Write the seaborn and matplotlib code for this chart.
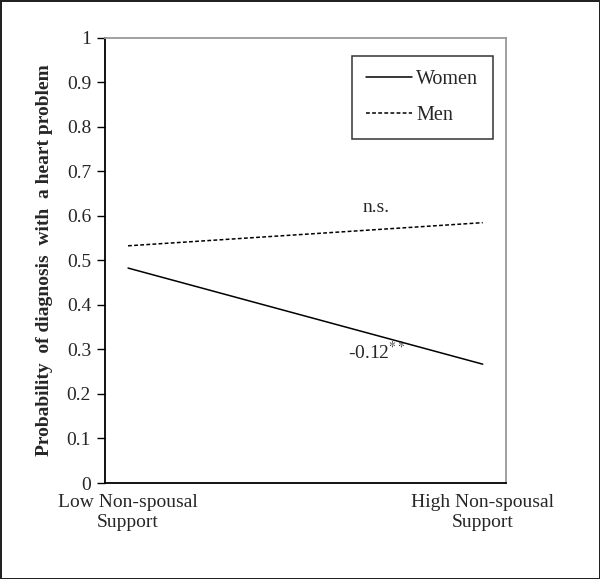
import pandas as pd
import matplotlib.pyplot as plt
import seaborn as sns
from matplotlib.lines import Line2D

# data
support_levels = ["Low Non-spousal\nSupport", "High Non-spousal\nSupport"]
women_prob = [0.483, 0.267]
men_prob = [0.533, 0.585]

df = pd.DataFrame({
    "x": [0, 1, 0, 1],
    "prob": women_prob + men_prob,
    "group": ["Women", "Women", "Men", "Men"],
})

sns.set_style("white")
plt.rcParams["font.family"] = ["Liberation Serif", "DejaVu Serif"]
plt.rcParams["mathtext.fontset"] = "stix"

fig = plt.figure(figsize=(6, 5.79), dpi=100, edgecolor="#222222", linewidth=2)
ax = fig.add_axes([0.175, 0.1658, 0.668, 0.7686])

sns.lineplot(data=df, x="x", y="prob", hue="group", style="group",
             palette={"Women": "black", "Men": "black"},
             dashes={"Women": "", "Men": (2.5, 1.5)},
             linewidth=1.1, ax=ax, legend=False)

ax.set_xlim(-0.065, 1.065)
ax.set_ylim(0, 1)
ax.set_yticks([i / 10 for i in range(11)])
ax.set_yticklabels(["0"] + [f"0.{i}" for i in range(1, 10)] + ["1"])
ax.set_xticks([0, 1])
ax.set_xticklabels(support_levels, linespacing=1.25)
ax.tick_params(axis="y", length=6, width=1, color="black", labelsize=14, pad=4, direction="out", left=True)
ax.tick_params(axis="x", length=0, labelsize=14, pad=8)
ax.set_xlabel("")
ax.set_ylabel("Probability  of diagnosis  with  a heart problem",
              fontsize=14, fontweight="bold", labelpad=10)

for side in ["left", "bottom"]:
    ax.spines[side].set_color("black")
    ax.spines[side].set_linewidth(1.3)
for side in ["top", "right"]:
    ax.spines[side].set_color("#999999")
    ax.spines[side].set_linewidth(1.3)

ax.text(0.70, 0.62, "n.s.", fontsize=14, ha="center", va="center")
ax.text(0.70, 0.295, r"-0.12$^{**}$", fontsize=14, ha="center", va="center")

# legend box
handles = [Line2D([], [], color="black", lw=1.1),
           Line2D([], [], color="black", lw=1.1, dashes=(2.5, 1.5))]
leg = ax.legend(handles, ["Women", "Men"], loc="upper right",
                bbox_to_anchor=(0.967, 0.96), fontsize=14.5, frameon=True,
                fancybox=False, handlelength=2.3, handletextpad=0.2,
                labelspacing=0.85, borderpad=0.7, borderaxespad=0)
leg.get_frame().set_edgecolor("black")
leg.get_frame().set_linewidth(1.1)

fig.savefig("out.png", dpi=100, edgecolor=fig.get_edgecolor())
